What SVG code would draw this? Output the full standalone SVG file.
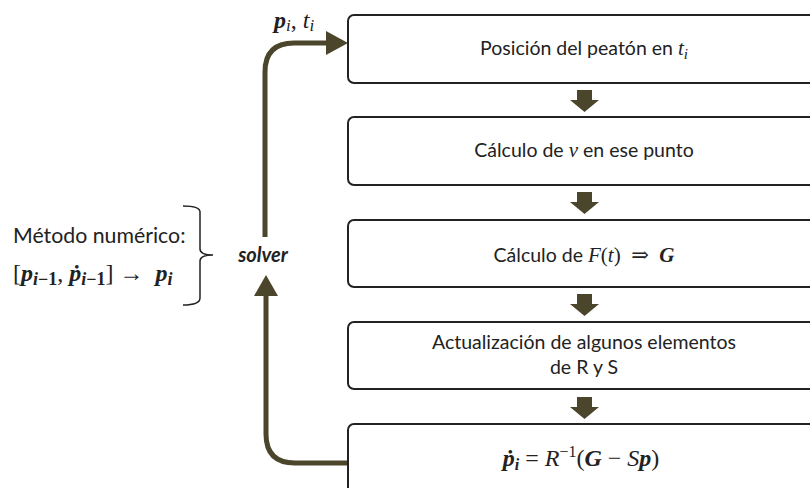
<svg xmlns="http://www.w3.org/2000/svg" width="810" height="488" viewBox="0 0 810 488">
<defs>
<style>
.box{fill:#fff;stroke:#222;stroke-width:2}
.t{font-family:Lato,"Open Sans","Liberation Sans",sans-serif;font-size:19.5px;fill:#222;text-anchor:middle}
.m{font-family:"Liberation Serif","DejaVu Serif",serif;font-style:italic}
.r{font-family:"Liberation Serif","DejaVu Serif",serif;font-style:normal}
.b{font-weight:bold}
.blk{fill:#4b452c}
.con{fill:none;stroke:#4b452c;stroke-width:5}
</style>
</defs>
<rect width="810" height="488" fill="#fff"/>
<g id="connectors">
<path class="con" d="M265,237 L265,72 Q265,43 294,43 L326,43"/>
<path d="M326,31 L348,43 L326,55 Z" class="blk"/>
<path class="con" d="M349,463 L295,463 Q266,463 266,434 L266,296"/>
<path d="M254,296 L266,275 L278,296 Z" class="blk"/>
<path class="blk" d="M577,90 h15 v10 h7 l-14.5,12 l-14.5,-12 h7 z"/>
<path class="blk" d="M577,192 h15 v10 h7 l-14.5,12 l-14.5,-12 h7 z"/>
<path class="blk" d="M577,294 h15 v10 h7 l-14.5,12 l-14.5,-12 h7 z"/>
<path class="blk" d="M577,397 h15 v10 h7 l-14.5,12 l-14.5,-12 h7 z"/>
</g>
<g id="n1">
<rect class="box" x="348" y="15" width="480" height="68" rx="6"/>
<text class="t" x="584" y="55">Posición del peatón en <tspan class="m" font-size="21">t</tspan><tspan class="m" font-size="15" dy="4">i</tspan></text>
</g>
<g id="n2">
<rect class="box" x="348" y="117" width="480" height="68" rx="6"/>
<text class="t" x="584" y="157">Cálculo de <tspan class="m" font-size="21">v</tspan> en ese punto</text>
</g>
<g id="n3">
<rect class="box" x="348" y="220" width="480" height="67" rx="6"/>
<text class="t" x="584" y="262">Cálculo de <tspan class="m" font-size="21">F</tspan><tspan class="r" font-size="21">(</tspan><tspan class="m" font-size="21">t</tspan><tspan class="r" font-size="21">)&#160;&#160;⇒&#160;&#160;</tspan><tspan class="m b" font-size="21">G</tspan></text>
</g>
<g id="n4">
<rect class="box" x="348" y="322" width="480" height="67" rx="6"/>
<text class="t" x="584" y="349">Actualización de algunos elementos</text>
<text class="t" x="584" y="374">de R y S</text>
</g>
<g id="n5">
<rect class="box" x="348" y="424" width="480" height="80" rx="6"/>
<text class="m" x="581" y="466" font-size="24" fill="#222" text-anchor="middle"><tspan class="b">ṗ</tspan><tspan class="b" font-size="16" dy="4">i</tspan><tspan dy="-4" font-style="normal">&#160;=&#160;</tspan><tspan>R</tspan><tspan font-size="16" dy="-9" font-style="normal">−1</tspan><tspan dy="9" font-style="normal">(</tspan><tspan class="b">G</tspan><tspan font-style="normal">&#160;−&#160;</tspan><tspan>S</tspan><tspan class="b">p</tspan><tspan font-style="normal">)</tspan></text>
</g>
<g id="label-top">
<text class="m b" x="274" y="28" font-size="24" fill="#222">p<tspan font-size="17" dy="3" font-weight="normal">i</tspan><tspan dy="-3" font-style="normal" font-weight="normal">,&#160;</tspan><tspan font-weight="normal">t</tspan><tspan font-size="17" dy="3" font-weight="normal">i</tspan></text>
</g>
<g id="solver">
<text x="263" y="262" font-family="Lato,'Liberation Sans',sans-serif" font-size="20" font-weight="bold" font-style="italic" fill="#222" text-anchor="middle">solver</text>
</g>
<g id="metodo">
<text x="13" y="243" font-family="Lato,'Open Sans','Liberation Sans',sans-serif" font-size="21.3" fill="#222">Método numérico:</text>
<text x="13" y="281" font-family="Liberation Serif,serif" font-size="24" fill="#222">[<tspan class="b" font-style="italic">p</tspan><tspan class="b" font-size="18" dy="4"><tspan font-style="italic">i</tspan>−1</tspan><tspan dy="-4">,&#160;</tspan><tspan class="b" font-style="italic">ṗ</tspan><tspan class="b" font-size="18" dy="4"><tspan font-style="italic">i</tspan>−1</tspan><tspan dy="-4">]&#160;→&#160;&#160;</tspan><tspan class="b" font-style="italic">p</tspan><tspan class="b" font-size="18" dy="4" font-style="italic">i</tspan></text>
<path d="M183,206 Q200,206 200,212 L200,249 Q200,255 213,255 Q200,255 200,261 L200,298 Q200,305 183,305" fill="none" stroke="#222" stroke-width="1.5"/>
</g>
</svg>
